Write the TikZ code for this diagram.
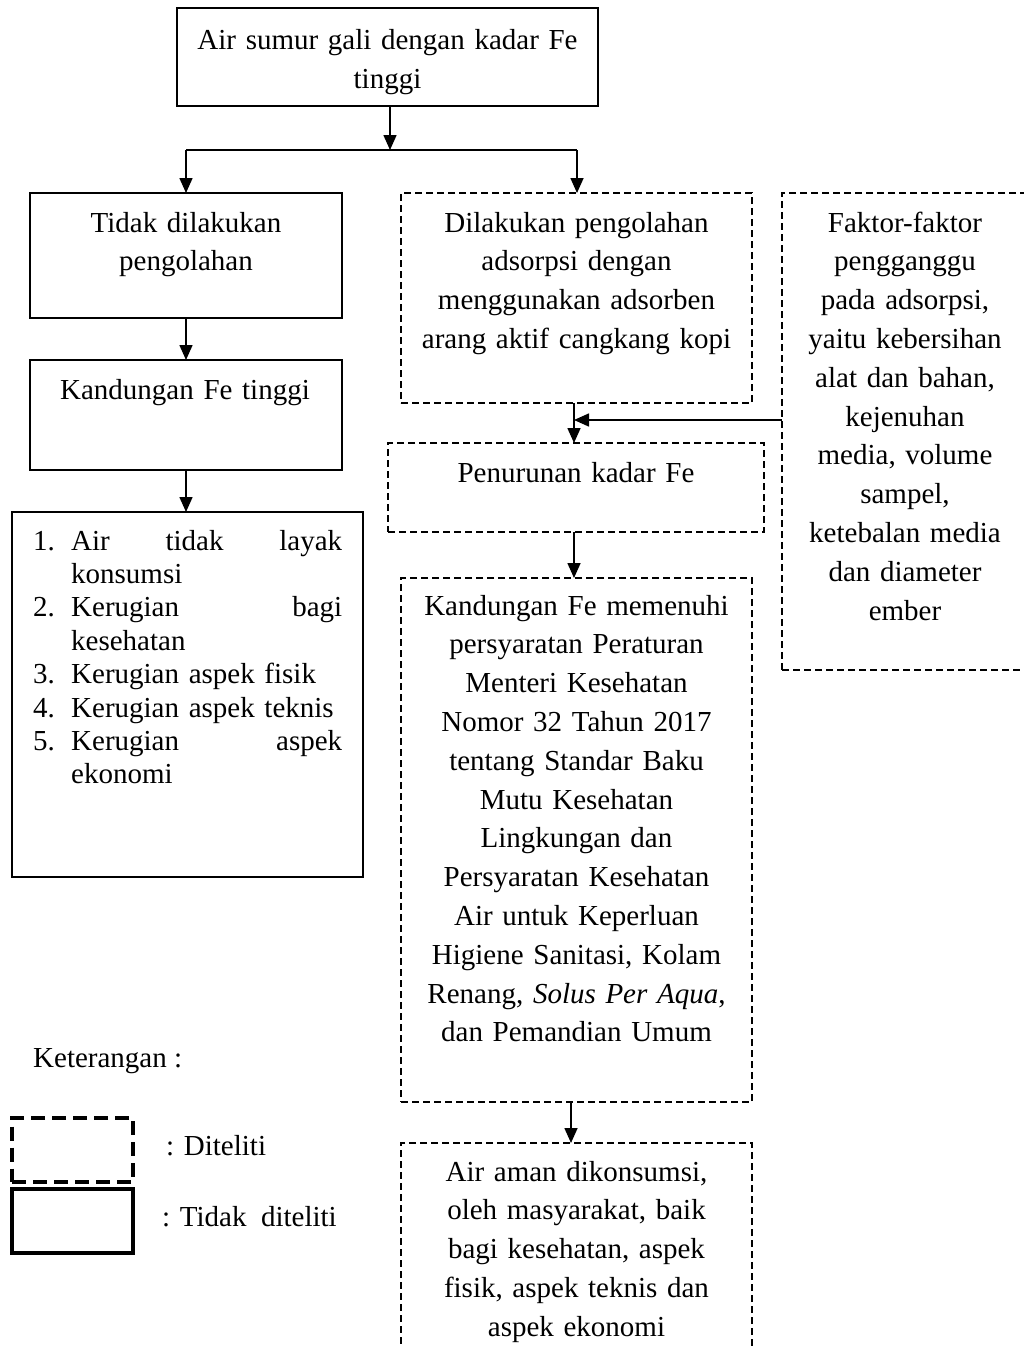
\documentclass[tikz,border=0pt]{standalone}
\usepackage{fontspec}
\setmainfont{Liberation Serif}
\usetikzlibrary{arrows.meta}
\begin{document}
\begin{tikzpicture}[x=1pt,y=-1pt,
  box/.style={draw, line width=1.8pt, rectangle, inner sep=0pt, outer sep=0pt},
  dbox/.style={draw, line width=1.4pt, dash pattern=on 7pt off 4pt, rectangle, inner sep=0pt, outer sep=0pt},
  legd/.style={draw, line width=4pt, dash pattern=on 14pt off 7pt, rectangle, inner sep=0pt, outer sep=0pt},
  legs/.style={draw, line width=4pt, rectangle, inner sep=0pt, outer sep=0pt},
  txt/.style={anchor=base, align=center, inner sep=0pt, text width=420pt, font=\fontsize{29}{38.8}\selectfont},
  ltxt/.style={anchor=base west, inner sep=0pt, font=\fontsize{29}{38.8}\selectfont},
  arr/.style={line width=1.6pt, -{Triangle[length=15pt,width=13pt]}},
  conn/.style={line width=2pt},
]
\path[use as bounding box, clip] (0,0) rectangle (1024,1346);

% boxes
\node[box, minimum width=421pt, minimum height=98pt] (top) at (387.5,57) {};
\node[box, minimum width=312pt, minimum height=125pt] (tidak) at (186,255.5) {};
\node[box, minimum width=312pt, minimum height=110pt] (kand1) at (186,415) {};
\node[box, minimum width=351pt, minimum height=365pt] (list) at (187.5,694.5) {};
\node[dbox, minimum width=351pt, minimum height=210pt] (dilak) at (576.5,298) {};
\node[dbox, minimum width=258pt, minimum height=477pt] (faktor) at (911,431.5) {};
\node[dbox, minimum width=376pt, minimum height=89pt] (penur) at (576,487.5) {};
\node[dbox, minimum width=351pt, minimum height=524pt] (kand2) at (576.5,840) {};
\node[dbox, minimum width=351pt, minimum height=237pt] (last) at (576.5,1261.5) {};
\node[legd, minimum width=121pt, minimum height=64pt] (legD) at (72.5,1149.5) {};
\node[legs, minimum width=121pt, minimum height=64pt] (legS) at (72.5,1220.5) {};

% texts
\node[txt] (ttop) at (387.5,50) {Air sumur gali dengan kadar Fe\\tinggi};
\node[txt] (ttidak) at (186,232) {Tidak dilakukan\\pengolahan};
\node[txt] (tkand1) at (185,399) {Kandungan Fe tinggi};
\node[txt] (tdilak) at (576.5,232) {Dilakukan pengolahan\\adsorpsi dengan\\menggunakan adsorben\\arang aktif cangkang kopi};
\node[txt] (tfak) at (905,232) {Faktor-faktor\\pengganggu\\pada adsorpsi,\\yaitu kebersihan\\alat dan bahan,\\kejenuhan\\media, volume\\sampel,\\ketebalan media\\dan diameter\\ember};
\node[txt] (tpen) at (576,482) {Penurunan kadar Fe};
\node[txt] (tkand2) at (576.5,615) {Kandungan Fe memenuhi\\persyaratan Peraturan\\Menteri Kesehatan\\Nomor 32 Tahun 2017\\tentang Standar Baku\\Mutu Kesehatan\\Lingkungan dan\\Persyaratan Kesehatan\\Air untuk Keperluan\\Higiene Sanitasi, Kolam\\Renang, \textit{Solus Per Aqua},\\dan Pemandian Umum};
\node[txt] (tlast) at (576.5,1181) {Air aman dikonsumsi,\\oleh masyarakat, baik\\bagi kesehatan, aspek\\fisik, aspek teknis dan\\aspek ekonomi};
\node[anchor=base west, inner sep=0pt, text width=330pt, align=left, font=\fontsize{29}{33.4}\selectfont] (tlist) at (33,550) {%
\makebox[38pt][l]{1.}\hbox to 271pt{Air\hfill tidak\hfill layak}\\
\hspace*{38pt}konsumsi\\
\makebox[38pt][l]{2.}\hbox to 271pt{Kerugian\hfill bagi}\\
\hspace*{38pt}kesehatan\\
\makebox[38pt][l]{3.}Kerugian aspek fisik\\
\makebox[38pt][l]{4.}Kerugian aspek teknis\\
\makebox[38pt][l]{5.}\hbox to 271pt{Kerugian\hfill aspek}\\
\hspace*{38pt}ekonomi};
\node[ltxt] (ket) at (33,1067) {Keterangan :};
\node[ltxt] (ld) at (166,1155) {: Diteliti};
\node[ltxt] (ls) at (162,1226) {: Tidak\ \ diteliti};

% connectors
\coordinate (sp) at (390,150);
\coordinate (spL) at (186,150);
\coordinate (spR) at (577,150);
\coordinate (jn) at (574,420);
\coordinate (fk) at (782,420);
\coordinate (c571) at (571,0);
\draw[arr] (top.south -| sp) -- (sp);
\draw[conn] (spL) -- (spR);
\draw[arr] (spL) -- (tidak.north);
\draw[arr] (spR) -- (spR |- dilak.north);
\draw[arr] (tidak.south) -- (kand1.north);
\draw[arr] (kand1.south) -- (kand1.south |- list.north);
\draw[line width=1.6pt] (dilak.south -| jn) -- (jn);
\draw[arr] (jn) -- (jn |- penur.north);
\draw[arr] (fk) -- (jn);
\draw[arr] (penur.south -| jn) -- (jn |- kand2.north);
\draw[arr] (kand2.south -| c571) -- (c571 |- last.north);
\end{tikzpicture}
\end{document}
